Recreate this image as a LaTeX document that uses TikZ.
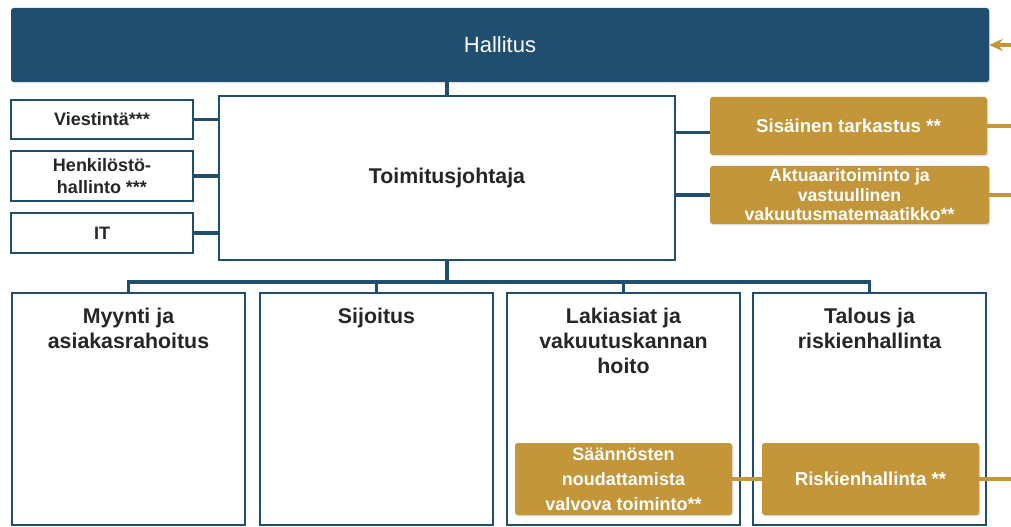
\documentclass[tikz,border=0pt]{standalone}
\usepackage{fontspec}
\setmainfont{Liberation Sans}
\usetikzlibrary{positioning,shadows,arrows.meta}
\definecolor{boardblue}{HTML}{1F4E6F}
\definecolor{goldline}{HTML}{C4963A}
\definecolor{ink}{HTML}{262626}

\begin{document}
\begin{tikzpicture}[
    x=0.75pt, y=-0.75pt,
    unit/.style={draw=boardblue, line width=2.2pt, fill=white, text=ink, inner sep=0pt, align=center},
    control/.style={fill=goldline, text=white, rounded corners=2pt, inner sep=0pt, align=center,
        drop shadow={shadow xshift=1pt, shadow yshift=-1pt, opacity=0.25}},
    heading/.style={text=ink, inner sep=0pt, align=center, font=\fontsize{16}{19}\selectfont\bfseries},
    link/.style={draw=boardblue, line width=2.4pt},
    report/.style={draw=goldline, line width=2.4pt}
]
    \useasboundingbox (0,0) rectangle (1011,527);

    % Board and CEO
    \node[fill=boardblue, text=white, rounded corners=2pt, minimum width=733.5pt, minimum height=55.5pt,
        font=\fontsize{16.5}{20}\selectfont, drop shadow={shadow xshift=1pt, shadow yshift=-1pt, opacity=0.25}]
        (hallitus) at (500,45) {Hallitus};
    \node[unit, minimum width=342pt, minimum height=123pt, font=\fontsize{16}{19}\selectfont\bfseries]
        (toimitus) at (447,178) {Toimitusjohtaja};

    % Staff functions (left)
    \node[unit, minimum width=136.5pt, minimum height=29.25pt, font=\fontsize{13.5}{17}\selectfont\bfseries]
        (viestinta) at (102,119.5) {Viestintä***};
    \node[unit, minimum width=136.5pt, minimum height=37.5pt, font=\fontsize{13.5}{17}\selectfont\bfseries]
        (henkilosto) at (102,176) {Henkilöstö-\\hallinto ***};
    \node[unit, minimum width=136.5pt, minimum height=30pt, font=\fontsize{13.5}{17}\selectfont\bfseries]
        (it) at (102,233) {IT};

    % Control functions (right)
    \node[control, minimum width=207.75pt, minimum height=43.5pt, font=\fontsize{14}{17}\selectfont\bfseries]
        (sisainen) at (848.5,126) {Sisäinen tarkastus **};
    \node[control, minimum width=209.25pt, minimum height=43.5pt, font=\fontsize{13.3}{14.6}\selectfont\bfseries]
        (aktuaari) at (849.5,195) {Aktuaaritoiminto ja\\vastuullinen\\vakuutusmatemaatikko**};

    % Business units
    \node[unit, minimum width=174.75pt, minimum height=174pt] (myynti) at (128.5,409) {};
    \node[unit, minimum width=174.75pt, minimum height=174pt] (sijoitus) at (376.5,409) {};
    \node[unit, minimum width=174.75pt, minimum height=174pt] (lakiasiat) at (623.5,409) {};
    \node[unit, minimum width=174.75pt, minimum height=174pt] (talous) at (869.5,409) {};
    \node[heading, below=12pt of myynti.north] (myyntitxt) {Myynti ja\\asiakasrahoitus};
    \node[heading, below=12pt of sijoitus.north] (sijoitustxt) {Sijoitus};
    \node[heading, below=12pt of lakiasiat.north] (lakiasiattxt) {Lakiasiat ja\\vakuutuskannan\\hoito};
    \node[heading, below=12pt of talous.north] (taloustxt) {Talous ja\\riskienhallinta};

    \node[control, minimum width=162.75pt, minimum height=54pt, font=\fontsize{13.5}{18.75}\selectfont\bfseries]
        (saannokset) at (623.5,479) {Säännösten\\noudattamista\\valvova toiminto**};
    \node[control, minimum width=162.75pt, minimum height=54pt, font=\fontsize{14}{17}\selectfont\bfseries]
        (riski) at (870.5,479) {Riskienhallinta **};

    % Lines
    \draw[link] (toimitus.north) -- (toimitus.north |- hallitus.south);
    \draw[link] (viestinta.east) -- (viestinta.east -| toimitus.west);
    \draw[link] (henkilosto.east) -- (henkilosto.east -| toimitus.west);
    \draw[link] (it.east) -- (it.east -| toimitus.west);
    \draw[link] ([yshift=-5pt]sisainen.west -| toimitus.east) -- ([yshift=-5pt]sisainen.west);
    \draw[link] (aktuaari.west -| toimitus.east) -- (aktuaari.west);

    \coordinate (bus) at (447,282);
    \draw[link] (toimitus.south) -- (bus);
    \draw[link] (myynti.north) -- (myynti.north |- bus) -- (talous.north |- bus) -- (talous.north);
    \draw[link] (sijoitus.north) -- (sijoitus.north |- bus);
    \draw[link] (lakiasiat.north) -- (lakiasiat.north |- bus);

    % Reporting lines to the board
    \coordinate (edge) at (1011,45);
    \draw[report, -{Stealth[length=10pt, width=9pt]}] (edge) -- (hallitus.east);
    \draw[report] (sisainen.east) -- (sisainen.east -| edge);
    \draw[report] (aktuaari.east) -- (aktuaari.east -| edge);
    \draw[report] (saannokset.east) -- (riski.west);
    \draw[report] (riski.east) -- (riski.east -| edge);
\end{tikzpicture}
\end{document}
